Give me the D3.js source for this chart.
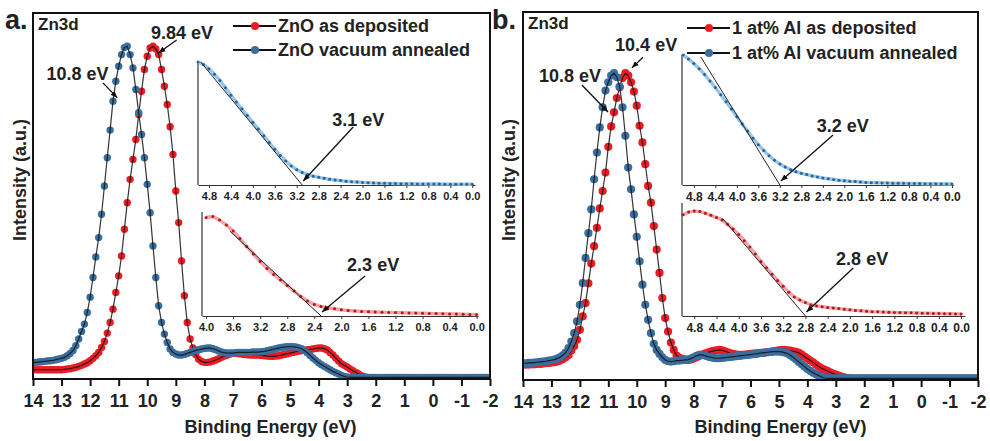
<!DOCTYPE html>
<html>
<head>
<meta charset="utf-8">
<script src="https://cdn.jsdelivr.net/npm/d3@7"></script>
<style>
  body { margin: 0; background: #fff; }
  svg { display: block; }
  text { font-family: "Liberation Sans", Arial, Helvetica, sans-serif; font-weight: bold; fill: #222; }
</style>
</head>
<body>
<svg id="chart" width="990" height="441"></svg>
<script>
// ---------- data ----------
// Zn3d / valence band spectra, binding energy 14 eV -> -2 eV, 0.1 eV steps
const energies = d3.range(140, -21, -1).map(d => d / 10);

// (a) undoped ZnO
const znoDeposited = [
  2.8, 2.8, 2.8, 2.8, 2.8, 2.8, 2.8, 2.8, 2.8, 2.8,
  2.8, 2.9, 3.0, 3.1, 3.3, 3.5, 3.8, 4.1, 4.5, 4.9,
  5.5, 6.2, 7.0, 8.0, 9.5, 11.3, 13.8, 17.0, 21.0, 26.0,
  31.0, 37.0, 45.0, 53.0, 60.0, 66.0, 72.0, 79.5, 86.5, 93.0,
  97.0, 99.5, 100.0, 99.2, 97.5, 93.0, 88.0, 82.5, 75.8, 67.5,
  56.5, 47.0, 35.5, 25.0, 17.0, 12.0, 9.3, 7.3, 5.9, 5.3,
  5.0, 5.0, 5.1, 5.4, 5.7, 6.1, 6.5, 6.9, 7.2, 7.5,
  7.7, 7.7, 7.6, 7.5, 7.4, 7.3, 7.2, 7.2, 7.2, 7.2,
  7.1, 7.0, 6.9, 6.8, 6.8, 6.9, 7.0, 7.2, 7.4, 7.6,
  7.8, 8.0, 8.2, 8.4, 8.5, 8.6, 8.8, 8.9, 9.0, 9.2,
  9.3, 9.3, 9.1, 8.7, 8.0, 7.2, 6.3, 5.4, 4.6, 4.1,
  3.6, 3.0, 2.5, 2.0, 1.5, 1.0, 0.7, 0.5, 0.4, 0.3,
  0.3, 0.3, 0.3, 0.3, 0.3, 0.3, 0.3, 0.3, 0.3, 0.3,
  0.3, 0.3, 0.3, 0.3, 0.3, 0.3, 0.3, 0.3, 0.3, 0.3,
  0.3, 0.3, 0.3, 0.3, 0.3, 0.3, 0.3, 0.3, 0.3, 0.3,
  0.3, 0.3, 0.3, 0.3, 0.3, 0.3, 0.3, 0.3, 0.3, 0.3,
  0.3
];
const znoAnnealed = [
  5.0, 5.0, 5.1, 5.2, 5.3, 5.4, 5.5, 5.6, 5.8, 6.0,
  6.2, 6.5, 7.0, 7.7, 8.6, 10.0, 12.0, 14.3, 16.5, 20.0,
  24.6, 30.5, 36.7, 42.5, 49.5, 58.0, 66.5, 74.8, 83.5, 89.5,
  94.0, 97.5, 99.6, 100.0, 97.5, 93.5, 87.0, 80.0, 73.5, 66.5,
  58.5, 50.0, 40.0, 30.5, 22.0, 17.0, 13.5, 11.0, 9.0, 8.0,
  7.5, 7.2, 7.2, 7.4, 7.7, 8.0, 8.3, 8.6, 8.8, 9.0,
  9.2, 9.3, 9.3, 9.1, 8.8, 8.4, 8.1, 7.9, 7.8, 7.8,
  7.8, 7.9, 8.0, 8.0, 8.0, 8.0, 8.0, 8.1, 8.1, 8.1,
  8.2, 8.3, 8.5, 8.7, 8.9, 9.1, 9.3, 9.5, 9.6, 9.7,
  9.7, 9.7, 9.6, 9.4, 9.1, 8.6, 7.9, 7.1, 6.3, 5.6,
  4.9, 4.3, 3.8, 3.3, 2.8, 2.3, 1.9, 1.5, 1.1, 0.8,
  0.6, 0.5, 0.5, 0.5, 0.5, 0.5, 0.5, 0.5, 0.5, 0.5,
  0.5, 0.5, 0.5, 0.5, 0.5, 0.5, 0.5, 0.5, 0.5, 0.5,
  0.5, 0.5, 0.5, 0.5, 0.5, 0.5, 0.5, 0.5, 0.5, 0.5,
  0.5, 0.5, 0.5, 0.5, 0.5, 0.5, 0.5, 0.5, 0.5, 0.5,
  0.5, 0.5, 0.5, 0.5, 0.5, 0.5, 0.5, 0.5, 0.5, 0.5,
  0.5
];

// (b) 1 at% Al doped ZnO
const alDeposited = [
  4.6, 4.6, 4.6, 4.7, 4.7, 4.8, 4.8, 4.9, 5.0, 5.1,
  5.2, 5.3, 5.5, 5.8, 6.2, 6.8, 7.5, 8.8, 10.2, 12.0,
  15.0, 19.0, 23.0, 28.9, 34.8, 40.0, 45.5, 51.3, 56.5, 62.0,
  69.7, 75.8, 80.0, 84.3, 87.5, 90.3, 91.7, 91.0, 89.0, 86.2,
  82.0, 76.0, 71.0, 64.5, 58.0, 53.0, 46.0, 39.0, 32.0, 24.5,
  18.5, 14.5, 11.2, 9.0, 7.3, 6.6, 6.3, 6.1, 6.0, 6.1,
  6.4, 6.8, 7.2, 7.6, 7.9, 8.2, 8.5, 8.7, 8.9, 9.0,
  8.9, 8.6, 8.3, 8.0, 7.8, 7.6, 7.5, 7.5, 7.6, 7.7,
  7.8, 7.9, 8.0, 8.0, 8.1, 8.2, 8.3, 8.4, 8.6, 8.7,
  8.9, 9.0, 9.0, 8.9, 8.8, 8.6, 8.4, 8.1, 7.6, 7.0,
  6.4, 5.8, 5.3, 4.6, 4.0, 3.5, 3.1, 2.7, 2.3, 1.9,
  1.6, 1.3, 1.0, 0.8, 0.6, 0.5, 0.4, 0.4, 0.4, 0.4,
  0.4, 0.4, 0.4, 0.4, 0.4, 0.4, 0.4, 0.4, 0.4, 0.4,
  0.4, 0.4, 0.4, 0.4, 0.4, 0.4, 0.4, 0.4, 0.4, 0.4,
  0.4, 0.4, 0.4, 0.4, 0.4, 0.4, 0.4, 0.4, 0.4, 0.4,
  0.4, 0.4, 0.4, 0.4, 0.4, 0.4, 0.4, 0.4, 0.4, 0.4,
  0.4
];
const alAnnealed = [
  5.0, 5.0, 5.1, 5.1, 5.2, 5.3, 5.4, 5.5, 5.6, 5.8,
  5.9, 6.1, 6.4, 6.8, 7.4, 8.2, 9.5, 11.5, 14.0, 17.5,
  22.5, 29.0, 36.5, 43.9, 51.0, 60.0, 68.0, 75.5, 81.5, 86.5,
  89.0, 91.0, 91.7, 90.5, 87.7, 81.5, 73.0, 63.5, 57.0, 49.5,
  42.8, 35.5, 28.5, 22.5, 18.0, 14.0, 10.8, 9.0, 7.8, 6.8,
  6.0, 5.6, 5.5, 5.6, 5.8, 5.8, 5.9, 6.0, 6.1, 6.4,
  6.8, 7.2, 7.5, 7.5, 7.3, 7.0, 6.8, 6.6, 6.5, 6.5,
  6.6, 6.7, 6.8, 6.9, 7.0, 7.1, 7.2, 7.3, 7.4, 7.5,
  7.6, 7.7, 7.8, 8.0, 8.1, 8.2, 8.3, 8.4, 8.5, 8.5,
  8.5, 8.4, 8.2, 7.9, 7.4, 6.8, 6.1, 5.4, 4.7, 4.0,
  3.3, 2.7, 2.2, 1.7, 1.3, 0.9, 0.6, 0.5, 0.5, 0.5,
  0.5, 0.5, 0.5, 0.5, 0.5, 0.5, 0.5, 0.5, 0.5, 0.5,
  0.5, 0.5, 0.5, 0.5, 0.5, 0.5, 0.5, 0.5, 0.5, 0.5,
  0.5, 0.5, 0.5, 0.5, 0.5, 0.5, 0.5, 0.5, 0.5, 0.5,
  0.5, 0.5, 0.5, 0.5, 0.5, 0.5, 0.5, 0.5, 0.5, 0.5,
  0.5, 0.5, 0.5, 0.5, 0.5, 0.5, 0.5, 0.5, 0.5, 0.5,
  0.5
];

// Valence band edge spectra (insets), 0.1 eV steps
const edgeEnergies5 = d3.range(50, -1, -1).map(d => d / 10);   // 5.0 -> 0.0
const edgeEnergies4 = d3.range(40, -1, -1).map(d => d / 10);   // 4.0 -> 0.0

const znoAnnealedEdge = [
  100, 98, 94.5, 90, 85, 79, 73, 67.5, 62, 56.5,
  51, 45.5, 40, 34.5, 29, 24, 19.5, 15.5, 12.5, 10.2,
  8.5, 7.2, 6.2, 5.4, 4.7, 4.1, 3.6, 3.1, 2.7, 2.4,
  2.1, 1.9, 1.7, 1.5, 1.4, 1.3, 1.2, 1.1, 1.0, 1.0,
  0.9, 0.9, 0.8, 0.8, 0.8, 0.7, 0.7, 0.7, 0.6, 0.6,
  0.6
];
const znoDepositedEdge = [
  98.5, 99.5, 96, 91, 85, 77.5, 69.5, 62, 54.5, 47.5,
  41.5, 36, 30.5, 25, 19.5, 15, 11.5, 9.5, 8.2, 7.2,
  6.3, 5.5, 5.0, 4.6, 4.3, 4.0, 3.8, 3.6, 3.4, 3.2,
  3.0, 2.9, 2.7, 2.6, 2.4, 2.3, 2.1, 2.0, 1.8, 1.6,
  1.4
];
const alAnnealedEdge = [
  100, 97, 93.5, 89.5, 85, 80, 75, 69.5, 64, 58.5,
  52.5, 47, 41.5, 36, 31, 26.5, 22.5, 19, 16.2, 13.8,
  11.8, 10.2, 9, 8, 7, 6.2, 5.4, 4.8, 4.2, 3.7,
  3.3, 2.9, 2.6, 2.3, 2.0, 1.8, 1.7, 1.6, 1.5, 1.4,
  1.3, 1.3, 1.2, 1.1, 1.1, 1.0, 1.0, 0.9, 0.9, 0.8,
  0.8
];
const alDepositedEdge = [
  95.5, 98, 99, 98.5, 97, 95, 93, 90.5, 86.5, 82,
  77, 71, 65, 58.5, 51.5, 45.5, 39.5, 33.5, 28, 22.5,
  18, 15, 12.7, 10.5, 9.5, 8.7, 8.0, 7.5, 7.0, 6.4,
  5.8, 5.3, 4.9, 4.5, 4.1, 3.9, 3.7, 3.5, 3.3, 3.2,
  3.1, 3.0, 2.8, 2.7, 2.6, 2.4, 2.3, 2.2, 2.1, 2.0,
  1.9
];

// Linear edge extrapolations: [start energy, start intensity] -> band edge (intensity 0)
const edgeFitStart = [[4.95, 100], [3.65, 85], [4.67, 98.5], [4.29, 92]];
const bandEdges = [3.1, 2.3, 3.2, 2.8];

// Tick labels
const energyTicks = [14, 13, 12, 11, 10, 9, 8, 7, 6, 5, 4, 3, 2, 1, 0, -1, -2];
const edgeTicks48 = ["4.8", "4.4", "4.0", "3.6", "3.2", "2.8", "2.4", "2.0", "1.6", "1.2", "0.8", "0.4", "0.0"];
const edgeTicks40 = ["4.0", "3.6", "3.2", "2.8", "2.4", "2.0", "1.6", "1.2", "0.8", "0.4", "0.0"];

const legendA = ["ZnO as deposited", "ZnO vacuum annealed"];
const legendB = ["1 at% Al as deposited", "1 at% Al vacuum annealed"];
const peakLabelsA = ["10.8 eV", "9.84 eV"];
const peakLabelsB = ["10.8 eV", "10.4 eV"];

// ---------- drawing ----------
const RED = "#ec1c24", BLUE = "#3a6e9f";
const svg = d3.select("#chart");

const defs = svg.append("defs");
defs.append("marker").attr("id", "arrowhead")
  .attr("viewBox", "0 0 10 8").attr("refX", 10).attr("refY", 4)
  .attr("markerWidth", 7).attr("markerHeight", 6).attr("markerUnits", "userSpaceOnUse")
  .attr("orient", "auto")
  .append("path").attr("d", "M0,0 L10,4 L0,8 Z").attr("fill", "#111");

function arrow(g, x1, y1, x2, y2) {
  g.append("line").attr("x1", x1).attr("y1", y1).attr("x2", x2).attr("y2", y2)
    .attr("stroke", "#111").attr("stroke-width", 1.3).attr("marker-end", "url(#arrowhead)");
}

function drawInset(g, c) {
  const x = d3.scaleLinear().domain(c.domain).range([c.x0, c.x1]);
  const y = d3.scaleLinear().domain([0, 100]).range([c.yBottom, c.yTop]);

  // axes
  g.append("line").attr("x1", c.x0).attr("x2", c.x0).attr("y1", c.yBottom).attr("y2", c.axisTop)
    .attr("stroke", "#333").attr("stroke-width", 1.2);
  const ax = g.append("g").attr("transform", `translate(0,${c.yBottom})`)
    .call(d3.axisBottom(x).tickValues(c.ticks.map(Number)).tickFormat((d, i) => c.ticks[i])
      .tickSize(3).tickSizeOuter(0).tickPadding(4));
  ax.select(".domain").attr("stroke", "#333").attr("stroke-width", 1.2);
  ax.selectAll(".tick line").attr("stroke", "#333").attr("stroke-width", 1);
  ax.selectAll(".tick text").attr("font-size", c.tickFont).attr("fill", "#333")
    .attr("font-family", '"Liberation Sans", Arial, sans-serif').attr("font-weight", "bold");

  const pts = c.energies.map((e, i) => [e, c.values[i]]);
  const line = d3.line().x(d => x(d[0])).y(d => y(d[1]));
  g.append("path").attr("d", line(pts)).attr("fill", "none")
    .attr("stroke", c.band).attr("stroke-width", 3.4).attr("stroke-linejoin", "round");
  g.selectAll(null).data(pts).join("circle")
    .attr("cx", d => x(d[0])).attr("cy", d => y(d[1])).attr("r", 1.5).attr("fill", c.dot);

  // edge extrapolation
  g.append("line")
    .attr("x1", x(c.fit[0])).attr("y1", y(c.fit[1]))
    .attr("x2", x(c.edge)).attr("y2", y(0))
    .attr("stroke", "#222").attr("stroke-width", 1);

  // annotation
  const tipX = x(c.edge) + 1, tipY = y(0) - 4;
  arrow(g, x(c.labelFrom[0]), y(c.labelFrom[1]), tipX, tipY);
  g.append("text").attr("x", x(c.labelAt[0])).attr("y", y(c.labelAt[1])).attr("dy", "0.35em")
    .attr("text-anchor", "middle").attr("font-size", 18).text(`${c.edge} eV`);
}

function drawPanel(c) {
  const g = svg.append("g");
  const x = d3.scaleLinear().domain([14, -2]).range([c.left, c.right]);
  const y = d3.scaleLinear().domain([0, 110]).range([c.bottom, c.top]);

  const clipId = "clip-" + c.id;
  defs.append("clipPath").attr("id", clipId).append("rect")
    .attr("x", c.left).attr("y", c.top).attr("width", c.right - c.left).attr("height", c.bottom - c.top);

  // bottom axis
  const ax = g.append("g").attr("transform", `translate(0,${c.bottom})`)
    .call(d3.axisBottom(x).tickValues(energyTicks).tickFormat(d => String(d))
      .tickSize(7).tickSizeOuter(0).tickPadding(8));
  ax.select(".domain").remove();
  ax.selectAll(".tick line").attr("stroke", "#111").attr("stroke-width", 2);
  ax.selectAll(".tick text").attr("font-size", 18).attr("fill", "#222")
    .attr("font-family", '"Liberation Sans", Arial, sans-serif').attr("font-weight", "bold");

  // spectra
  const plot = g.append("g").attr("clip-path", `url(#${clipId})`);
  const line = d3.line().x(d => x(d[0])).y(d => y(d[1]));
  c.series.forEach(s => {
    const pts = energies.map((e, i) => [e, s.values[i]]);
    plot.append("g").selectAll("circle").data(pts).join("circle")
      .attr("cx", d => x(d[0])).attr("cy", d => y(d[1])).attr("r", c.r).attr("fill", s.color);
    plot.append("path").attr("d", line(pts)).attr("fill", "none")
      .attr("stroke", "#111").attr("stroke-width", 1.2).attr("stroke-opacity", 0.85);
  });

  // frame
  g.append("rect").attr("x", c.left).attr("y", c.top)
    .attr("width", c.right - c.left).attr("height", c.bottom - c.top)
    .attr("fill", "none").attr("stroke", "#111").attr("stroke-width", 2);

  // peak annotations
  c.peaks.forEach(p => {
    arrow(g, x(p.from[0]), y(p.from[1]), x(p.to[0]), y(p.to[1]));
    g.append("text").attr("x", x(p.at[0])).attr("y", y(p.at[1])).attr("dy", "0.35em")
      .attr("text-anchor", "middle").attr("font-size", 18).text(p.text);
  });

  // legend
  c.series.forEach((s, i) => {
    const ly = c.legendY[i];
    g.append("line").attr("x1", c.legendX).attr("x2", c.legendX + 43).attr("y1", ly).attr("y2", ly)
      .attr("stroke", "#111").attr("stroke-width", 1.8);
    g.append("circle").attr("cx", c.legendX + 22).attr("cy", ly).attr("r", 4).attr("fill", s.color);
    g.append("text").attr("x", c.legendX + 45).attr("y", ly).attr("dy", "0.35em")
      .attr("font-size", 18).text(s.name);
  });

  // labels
  g.append("text").attr("x", c.left + 5).attr("y", c.top + 17).attr("font-size", 17).text("Zn3d");
  g.append("text").attr("x", c.letterX).attr("y", 29).attr("font-size", 27).text(c.letter);
  g.append("text").attr("x", (c.left + c.right) / 2 + c.titleShift).attr("y", 433)
    .attr("text-anchor", "middle").attr("font-size", 18).text("Binding Energy (eV)");
  g.append("text").attr("transform", `translate(${c.yTitleX},180) rotate(-90)`)
    .attr("text-anchor", "middle").attr("font-size", 18).text("Intensity (a.u.)");

  c.insets.forEach(ins => drawInset(g, ins));
}

drawPanel({
  id: "a", left: 33, right: 490, top: 13, bottom: 379, r: 3.7,
  letter: "a.", letterX: 5, titleShift: 9, yTitleX: 26,
  legendX: 233, legendY: [26, 50],
  series: [
    { name: legendA[0], values: znoDeposited, color: RED },
    { name: legendA[1], values: znoAnnealed, color: BLUE }
  ],
  peaks: [
    { text: peakLabelsA[0], at: [12.44, 91.8], from: [11.55, 89.0], to: [11.05, 84.5] },
    { text: peakLabelsA[1], at: [8.78, 104], from: [8.97, 101.9], to: [9.61, 98.0] }
  ],
  insets: [
    { x0: 198, x1: 475, domain: [5.0, -0.05], yBottom: 185, yTop: 62, axisTop: 62,
      ticks: edgeTicks48, tickFont: 11, energies: edgeEnergies5, values: znoAnnealedEdge,
      band: "#93c6ea", dot: "#2d6391", fit: edgeFitStart[0], edge: bandEdges[0],
      labelAt: [2.08, 52.8], labelFrom: [2.17, 47.2] },
    { x0: 202, x1: 478, domain: [4.06, -0.02], yBottom: 316, yTop: 216, axisTop: 212,
      ticks: edgeTicks40, tickFont: 11, energies: edgeEnergies4, values: znoDepositedEdge,
      band: "#f3a3a3", dot: "#b3161d", fit: edgeFitStart[1], edge: bandEdges[1],
      labelAt: [1.53, 51], labelFrom: [1.65, 40] }
  ]
});

drawPanel({
  id: "b", left: 523, right: 978, top: 12, bottom: 380, r: 4.1,
  letter: "b.", letterX: 492, titleShift: 30, yTitleX: 515,
  legendX: 687, legendY: [28, 53],
  series: [
    { name: legendB[0], values: alDeposited, color: RED },
    { name: legendB[1], values: alAnnealed, color: BLUE }
  ],
  peaks: [
    { text: peakLabelsB[0], at: [12.35, 91.0], from: [11.93, 88.2], to: [11.01, 80.1] },
    { text: peakLabelsB[1], at: [9.67, 100.1], from: [9.78, 96.5], to: [10.17, 93.3] }
  ],
  insets: [
    { x0: 682, x1: 953, domain: [5.02, -0.02], yBottom: 185, yTop: 55, axisTop: 55,
      ticks: edgeTicks48, tickFont: 12, energies: edgeEnergies5, values: alAnnealedEdge,
      band: "#93c6ea", dot: "#2d6391", fit: edgeFitStart[2], edge: bandEdges[2],
      labelAt: [2.03, 46], labelFrom: [2.21, 38.5] },
    { x0: 682, x1: 965, domain: [5.02, -0.07], yBottom: 316, yTop: 210, axisTop: 203,
      ticks: edgeTicks48, tickFont: 12, energies: edgeEnergies5, values: alDepositedEdge,
      band: "#f3a3a3", dot: "#b3161d", fit: edgeFitStart[3], edge: bandEdges[3],
      labelAt: [1.78, 53.8], labelFrom: [1.94, 45.3] }
  ]
});
</script>
</body>
</html>
